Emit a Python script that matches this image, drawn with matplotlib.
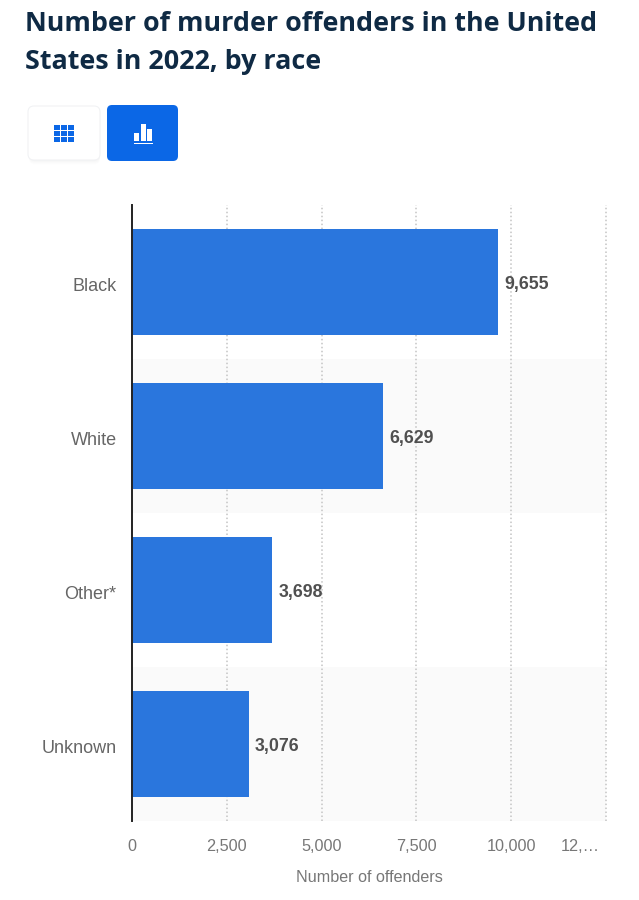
import matplotlib
matplotlib.use("Agg")
import matplotlib.pyplot as plt
from matplotlib.patches import FancyBboxPatch, Rectangle
from matplotlib.transforms import ScaledTranslation

categories = ["Black", "White", "Other*", "Unknown"]
offenders = [9655, 6629, 3698, 3076]
tick_values = [0, 2500, 5000, 7500, 10000, 12500]
tick_labels = ["0", "2,500", "5,000", "7,500", "10,000", "12,…"]
title_lines = ["Number of murder offenders in the United", "States in 2022, by race"]
x_label = "Number of offenders"

W, H = 639, 900
fig = plt.figure(figsize=(W / 100, H / 100), dpi=100, facecolor="white")
sans = ["Liberation Sans", "DejaVu Sans"]

page = fig.add_axes([0, 0, 1, 1], zorder=0)
page.set_xlim(0, W)
page.set_ylim(H, 0)
page.axis("off")
for line, y in zip(title_lines, [24, 62]):
    page.text(25, y, line, family="Open Sans", weight="bold",
              fontsize=19.4, color="#0f2a44", va="center", ha="left")

for i in range(6):
    page.add_patch(FancyBboxPatch((29, 107 + i * 0.9), 71, 53, boxstyle="round,pad=0,rounding_size=6",
                                  fc="#000000", ec="none", alpha=0.006))
page.add_patch(FancyBboxPatch((28, 106), 72, 54, boxstyle="round,pad=0,rounding_size=6",
                              fc="white", ec="#f1f2f4", lw=0.8))
page.add_patch(FancyBboxPatch((107, 105), 71, 56, boxstyle="round,pad=0,rounding_size=5",
                              fc="#0b67e6", ec="none"))
for r in range(3):
    for c in range(3):
        page.add_patch(Rectangle((54 + c * 7, 125 + r * 6), 6, 5.2, fc="#0b67e6", ec="none"))
for x0, top, w in [(134, 133, 5), (140.5, 124, 5.5), (147, 129, 5)]:
    page.add_patch(Rectangle((x0, top), w, 141 - top, fc="white", ec="none"))
page.add_patch(Rectangle((133.5, 142.5), 19, 1.6, fc="white", ec="none"))

ax = fig.add_axes([132 / W, 1 - 821 / H, (606 - 132) / W, (821 - 205) / H], zorder=1)
ax.patch.set_alpha(0)
ax.set_xlim(0, 12500)
ax.set_ylim(len(categories) - 0.5, -0.5)
for i in range(len(categories)):
    if i % 2 == 1:
        ax.axhspan(i - 0.5, i + 0.5, color="#fafafa", lw=0, zorder=0)
for v in tick_values[1:]:
    ax.axvline(v, color="#c4c4c4", lw=1.1, ls=(0, (1, 1.6)), zorder=1, clip_on=False)

bars = ax.barh(range(len(categories)), offenders, height=106 / 154, color="#2a76dd", zorder=2)
for b, v in zip(bars, offenders):
    ax.annotate(f"{v:,}", (v, b.get_y() + b.get_height() / 2), xytext=(4.6, -1.7),
                textcoords="offset points", va="center", ha="left", family=sans,
                fontsize=12.8, weight="bold", color="#505050")

ax.set_yticks(range(len(categories)), categories, family=sans, fontsize=13, color="#666666")
ax.set_xticks(tick_values, tick_labels, family=sans, fontsize=11.7, color="#777777")
ax.tick_params(axis="y", length=0, pad=11)
ax.tick_params(axis="x", length=0, pad=12.7)
down = ScaledTranslation(0, -2.5 / 100, fig.dpi_scale_trans)
for lab in ax.get_yticklabels():
    lab.set_transform(lab.get_transform() + down)
last = ax.get_xticklabels()[-1]
last.set_ha("right")
last.set_transform(last.get_transform() + ScaledTranslation(-6 / 100, 0, fig.dpi_scale_trans))
for s in ["top", "right", "bottom"]:
    ax.spines[s].set_visible(False)
ax.spines["left"].set_color("#222222")
ax.spines["left"].set_linewidth(1.4)
ax.spines["left"].set_zorder(5)
ax.set_xlabel(x_label, family=sans, fontsize=11.6, color="#777777")
ax.xaxis.set_label_coords((369 - 132) / 474, -(878 - 821) / 616)
ax.xaxis.label.set_va("center")

fig.savefig("out.png", dpi=100)
